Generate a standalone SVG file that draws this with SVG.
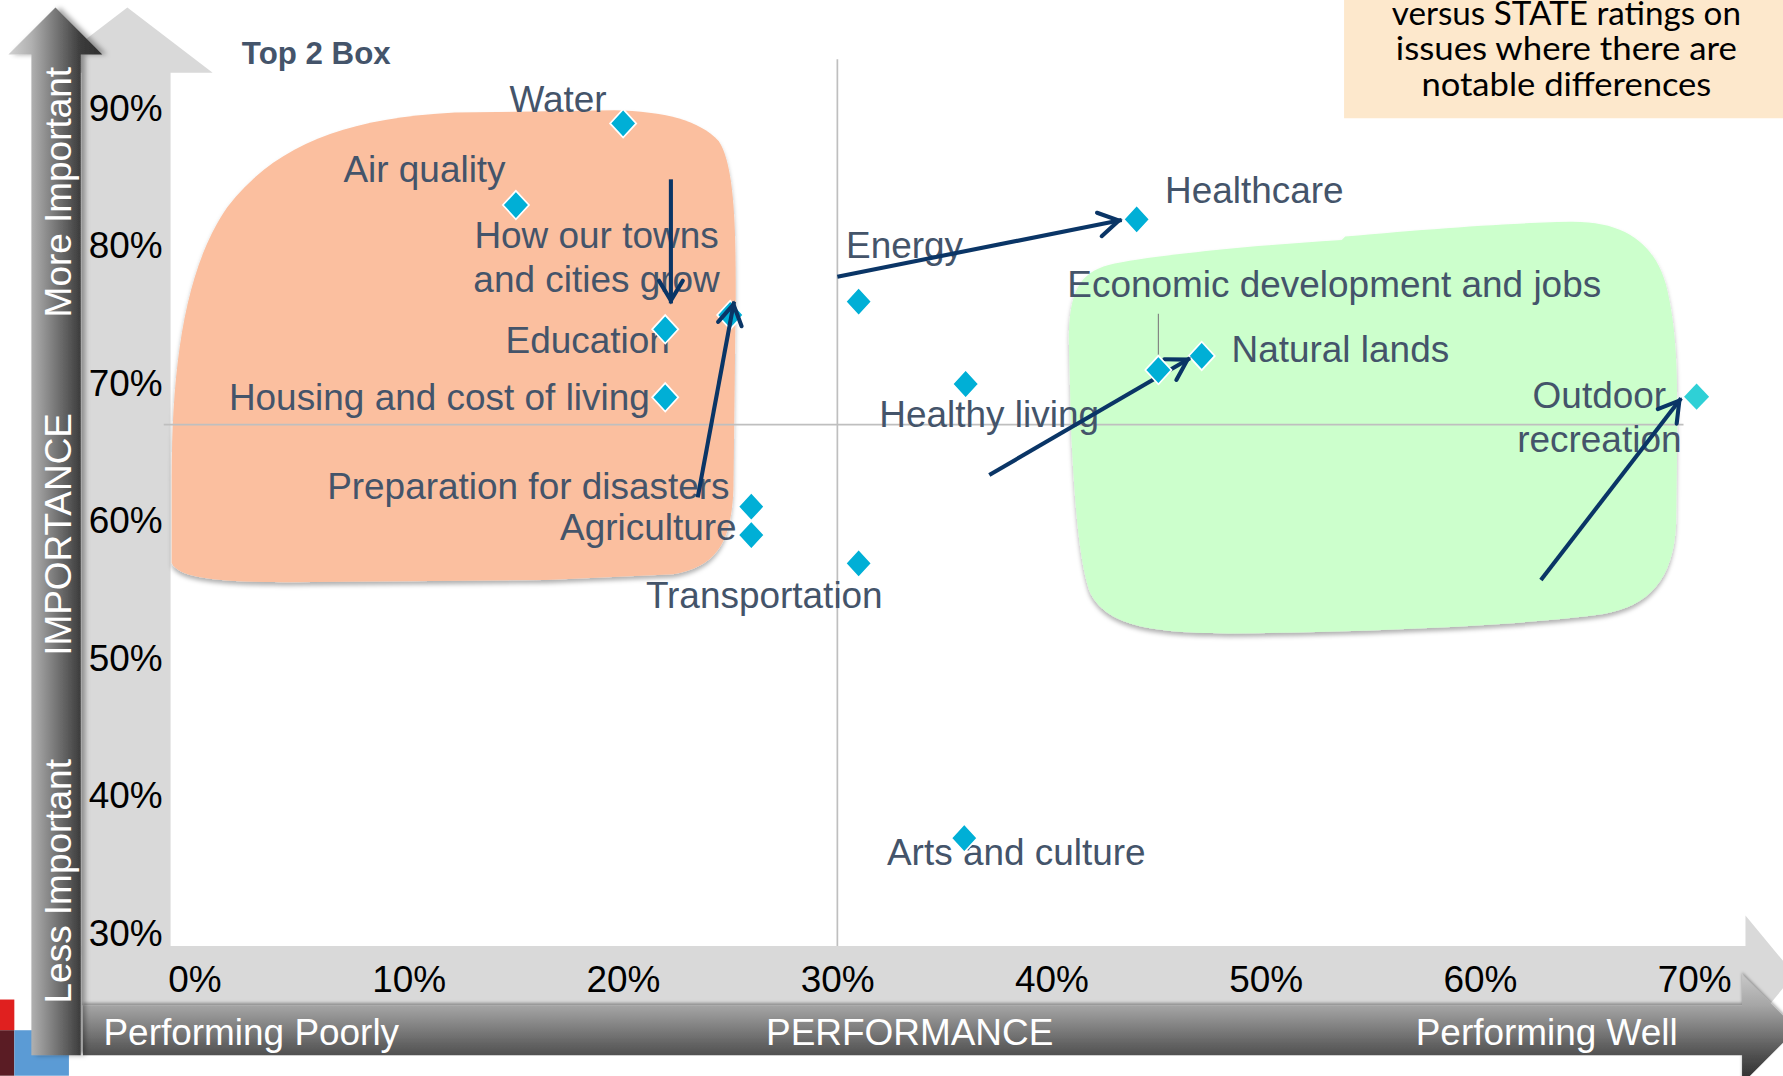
<svg xmlns="http://www.w3.org/2000/svg" width="1783" height="1076" viewBox="0 0 1783 1076">
<style>
.lbl{font-family:"Liberation Sans",Arial,sans-serif;font-size:32.5px;fill:#44546a}
.ax{font-family:"Liberation Sans",Arial,sans-serif;font-size:32.5px;fill:#000}
.axm{font-family:"Liberation Sans",Arial,sans-serif;font-size:32.5px;fill:#000;text-anchor:middle}
.wt{font-family:"Liberation Sans",Arial,sans-serif;font-size:32.5px;fill:#fff}
.note{font-family:Lato,"Open Sans",sans-serif;font-size:28px;fill:#000;text-anchor:middle}
.arr{fill:none;stroke:#0a3566;stroke-width:3.6;marker-end:url(#ah)}
.grid{stroke:#bfbfbf;stroke-width:1.5}
.lite{fill:#d9d9d9}
</style>
<defs>
<marker id="ah" markerUnits="userSpaceOnUse" markerWidth="30" markerHeight="30" viewBox="-25 -15 30 30" refX="0" refY="0" orient="auto" overflow="visible">
<path d="M-20,-10.5 L-2.5,0 L-20,10.5" fill="none" stroke="#0a3566" stroke-width="3.6" stroke-linecap="round"/>
</marker>
<path id="dm" d="M0,-12.5 L11.5,0 L0,12.5 L-11.5,0Z" fill="#00afd6" stroke="#fff" stroke-width="1.5"/>
<linearGradient id="vg" gradientUnits="userSpaceOnUse" x1="7" y1="0" x2="90" y2="0">
<stop offset="0" stop-color="#d2d2d2"/><stop offset="0.25" stop-color="#b0b0b0"/><stop offset="0.77" stop-color="#3c3c3c"/><stop offset="1" stop-color="#2e2e2e"/>
</linearGradient>
<linearGradient id="hg" gradientUnits="userSpaceOnUse" x1="0" y1="857" x2="0" y2="953">
<stop offset="0" stop-color="#c8c8c8"/><stop offset="0.28" stop-color="#a6a6a6"/><stop offset="0.74" stop-color="#505050"/><stop offset="1" stop-color="#2a2a2a"/>
</linearGradient>
<filter id="sh" x="-5%" y="-5%" width="110%" height="115%"><feDropShadow dx="0" dy="3" stdDeviation="2" flood-color="#000" flood-opacity="0.3"/></filter>
<filter id="bsh" x="-20%" y="-5%" width="160%" height="110%"><feDropShadow dx="4" dy="0" stdDeviation="2.5" flood-color="#000" flood-opacity="0.35"/></filter>
<filter id="hsh" x="-5%" y="-30%" width="110%" height="160%"><feDropShadow dx="0" dy="-2" stdDeviation="1.5" flood-color="#000" flood-opacity="0.35"/></filter>
</defs>
<rect width="1783" height="1076" fill="#fff"/>
<g transform="scale(1.13712)">
<g id="axes-bg">
<polygon class="lite" points="112,6.5 187,64 150,64 150,840 72,840 72,64 37,64"/>
<polygon class="lite" points="72,832 1535,832 1535,805 1578,857 1535,909 1535,884 72,884"/>
</g>
<g id="zones">
<path id="zone-poor" filter="url(#sh)" fill="#fbbf9f" d="M151,495 L151,420 C151,320 163,235 200,182 C240,130 300,104 400,99 L540,97 C585,98 615,106 632,124 C646,145 647,200 647,260 L645,430 C643,478 630,498 592,505 L480,510 L250,512 C190,512 156,508 151,495 Z"/>
<path id="zone-well" filter="url(#sh)" fill="#ccffcc" d="M940,300 C940,255 950,240 975,233 C1010,225 1100,216 1180,211 L1183,208 C1260,201 1330,196 1380,195 C1430,194 1455,215 1465,250 C1475,290 1475,330 1475,380 L1474,460 C1472,510 1450,533 1410,540 C1340,550 1200,556 1080,557 C1000,557 972,546 959,522 C949,496 945,440 942,380 Z"/>
</g>
<g id="gridlines">
<line class="grid" x1="736.4" y1="52" x2="736.4" y2="832"/>
<line class="grid" x1="144" y1="373.5" x2="1480.5" y2="373.5"/>
</g>
<g id="y-ticks">
<text class="ax" x="78" y="106">90%</text>
<text class="ax" x="78" y="227">80%</text>
<text class="ax" x="78" y="348">70%</text>
<text class="ax" x="78" y="469">60%</text>
<text class="ax" x="78" y="590">50%</text>
<text class="ax" x="78" y="711">40%</text>
<text class="ax" x="78" y="832">30%</text>
</g>
<g id="x-ticks">
<text class="axm" x="171.5" y="872">0%</text>
<text class="axm" x="359.9" y="872">10%</text>
<text class="axm" x="548.3" y="872">20%</text>
<text class="axm" x="736.7" y="872">30%</text>
<text class="axm" x="925.1" y="872">40%</text>
<text class="axm" x="1113.5" y="872">50%</text>
<text class="axm" x="1301.9" y="872">60%</text>
<text class="axm" x="1490.3" y="872">70%</text>
</g>
<g id="corner">
<rect x="0" y="879" width="12.6" height="27" fill="#e0201f"/>
<rect x="0" y="906" width="12.6" height="40" fill="#5a1c24"/>
<rect x="12.6" y="906" width="48" height="40" fill="#5b9bd5"/>
</g>
<g id="performance-axis">
<polygon filter="url(#hsh)" fill="url(#hg)" points="73,884 1532,884 1532,857 1580,905 1532,953 1532,928 73,928"/>
<text class="wt" x="91" y="919">Performing Poorly</text>
<text class="wt" x="800" y="919" text-anchor="middle">PERFORMANCE</text>
<text class="wt" x="1245" y="919">Performing Well</text>
</g>
<g id="importance-axis">
<polygon filter="url(#bsh)" fill="url(#vg)" points="48.8,6.5 90,48 71,48 71,928 27.6,928 27.6,48 7.4,48"/>
<text class="wt" transform="translate(62,169) rotate(-90)" text-anchor="middle">More Important</text>
<text class="wt" transform="translate(62,470) rotate(-90)" text-anchor="middle">IMPORTANCE</text>
<text class="wt" transform="translate(62,775) rotate(-90)" text-anchor="middle">Less Important</text>
</g>
<g id="title">
<text x="212.7" y="56.3" style="font-family:'Liberation Sans',Arial,sans-serif;font-weight:bold;font-size:27.5px;fill:#44546a">Top 2 Box</text>
</g>
<g id="note">
<rect x="1182" y="0" width="386" height="104" fill="#fde8cc"/>
<text class="note" x="1377.5" y="22" textLength="307" lengthAdjust="spacingAndGlyphs">versus STATE ratings on</text>
<text class="note" x="1377.5" y="53" textLength="300" lengthAdjust="spacingAndGlyphs">issues where there are</text>
<text class="note" x="1377.5" y="84.4" textLength="255" lengthAdjust="spacingAndGlyphs">notable differences</text>
</g>
<g id="n-water"><text class="lbl" x="448" y="98.5">Water</text><use href="#dm" x="548" y="108.5"/></g>
<g id="n-air"><text class="lbl" x="302" y="160">Air quality</text><use href="#dm" x="453.7" y="180.3"/></g>
<g id="n-towns"><text class="lbl" x="524.6" y="218.4" text-anchor="middle">How our towns</text><text class="lbl" x="524.6" y="256.5" text-anchor="middle">and cities grow</text><use href="#dm" x="642.2" y="277"/></g>
<g id="n-education"><text class="lbl" x="444.6" y="310.7">Education</text><use href="#dm" x="585" y="289.6"/></g>
<g id="n-housing"><text class="lbl" x="201.3" y="360.6">Housing and cost of living</text><use href="#dm" x="585" y="349.4"/></g>
<g id="n-disasters"><text class="lbl" x="287.7" y="439.1">Preparation for disasters</text><use href="#dm" x="660.7" y="445.6"/></g>
<g id="n-agriculture"><text class="lbl" x="492.5" y="474.9">Agriculture</text><use href="#dm" x="660.7" y="470.5"/></g>
<g id="n-transportation"><text class="lbl" x="568" y="535">Transportation</text><use href="#dm" x="755.1" y="495.4"/></g>
<g id="n-energy"><text class="lbl" x="744" y="227.2">Energy</text><use href="#dm" x="755.1" y="265.3"/></g>
<g id="n-healthcare"><text class="lbl" x="1024.5" y="178.8">Healthcare</text><use href="#dm" x="999.6" y="192.9"/></g>
<g id="n-healthy"><text class="lbl" x="773.3" y="375.2">Healthy living</text><use href="#dm" x="849.2" y="337.7"/></g>
<g id="n-natural"><text class="lbl" x="1083" y="318">Natural lands</text><use href="#dm" x="1056.8" y="313"/></g>
<g id="n-outdoor"><text class="lbl" x="1406.5" y="359.1" text-anchor="middle">Outdoor</text><text class="lbl" x="1406.5" y="397.2" text-anchor="middle">recreation</text><path d="M0,-11.5 L11,0 L0,11.5 L-11,0Z" transform="translate(1492,348.8)" fill="#2fd0d6"/></g>
<g id="n-arts"><text class="lbl" x="780" y="761">Arts and culture</text><use href="#dm" x="848" y="737"/></g>
<g id="connectors">
<line class="arr" x1="590" y1="157.7" x2="590" y2="266.8"/>
<line class="arr" x1="613.6" y1="437.4" x2="645.5" y2="265.3"/>
<line class="arr" x1="736.4" y1="243.3" x2="986.4" y2="193.5"/>
<line class="arr" x1="870" y1="417.7" x2="1046.5" y2="315"/>
<line class="arr" x1="1355.1" y1="510" x2="1478.4" y2="350.3"/>
</g>
<g id="n-economic"><text class="lbl" x="938.6" y="260.9">Economic development and jobs</text><line x1="1018.7" y1="276" x2="1018.7" y2="312" stroke="#808080" stroke-width="1"/><use href="#dm" x="1018.7" y="325.4"/></g>
</g>
</svg>
